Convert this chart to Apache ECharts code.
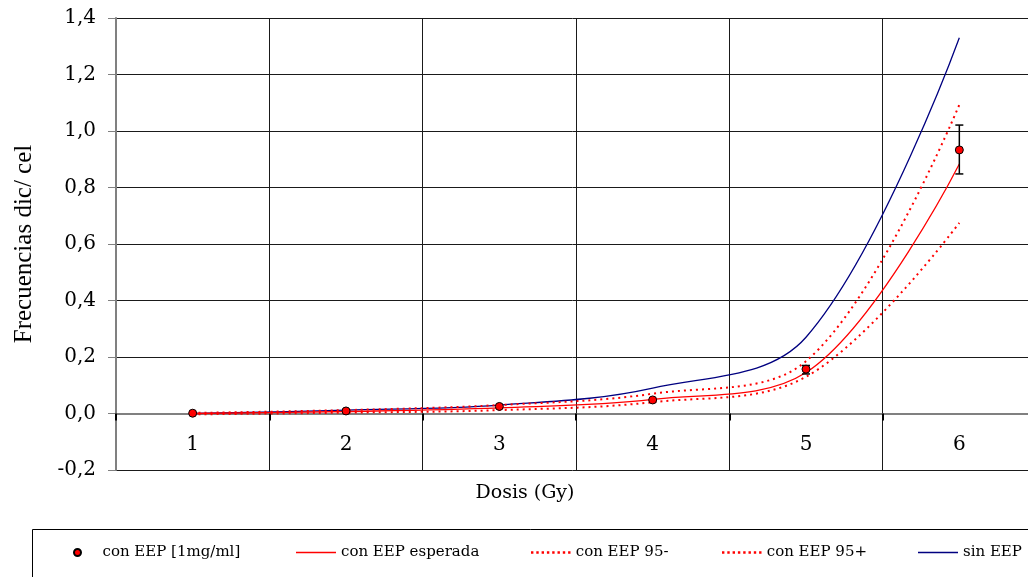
<!DOCTYPE html>
<html>
<head>
<meta charset="utf-8">
<script src="https://cdn.jsdelivr.net/npm/echarts@6/dist/echarts.min.js"></script>
<style>html,body{margin:0;padding:0;background:#fff}#c{width:1028px;height:577px}</style>
</head>
<body>
<div id="c"></div>
<script>
const doses = ['1', '2', '3', '4', '5', '6'];
const observed = [0.001, 0.009, 0.025, 0.048, 0.157, 0.933];
const errPlus = [0, 0, 0, 0, 0.013, 0.088];
const errMinus = [0, 0, 0, 0, 0.017, 0.085];
const expected = [0.0, 0.007, 0.02, 0.05, 0.145, 0.883];
const lower95 = [-0.003, 0.003, 0.012, 0.04, 0.13, 0.675];
const upper95 = [0.002, 0.012, 0.03, 0.07, 0.185, 1.093];
const sinEEP = [0.0, 0.012, 0.03, 0.09, 0.27, 1.33];
const yTicks = { min: -0.2, max: 1.4, interval: 0.2 };

const names = ['con EEP [1mg/ml]', 'con EEP esperada', 'con EEP 95-', 'con EEP 95+', 'sin EEP'];
const serif = 'DejaVu Serif';
const fmt = v => v.toFixed(1).replace('.', ',');
const SMOOTH = 0.36;

const errData = doses.map((d, i) => [i, observed[i] - errMinus[i], observed[i] + errPlus[i]]);

// legend icon shapes
const solidIcon = 'path://M0,0H40V1.4H0Z';
let dots = '';
for (let k = 0; k < 8; k++) { const x0 = k * 5.3; dots += 'M' + x0 + ',0h2.4v2.4h-' + 2.4 + 'z'; }
const dottedIcon = 'path://' + dots;

function legendAt(item, left, extra) {
  return Object.assign({
    data: [item], left: left, top: 545, padding: 0, itemWidth: 40, itemHeight: 2,
    selectedMode: false,
    textStyle: { fontFamily: serif, fontSize: 15, color: '#000' }
  }, extra || {});
}

const chart = echarts.init(document.getElementById('c'), null, { renderer: 'canvas' });

chart.setOption({
  animation: false,
  backgroundColor: '#fff',
  grid: { left: 116, top: 18, width: 920, height: 452, containLabel: false, outerBoundsMode: 'none' },
  legend: [
    legendAt({ name: names[0], icon: 'circle' }, 73, { itemWidth: 8, itemHeight: 7, itemGap: 0,
      textStyle: { fontFamily: serif, fontSize: 15, color: '#000', padding: [0, 0, 0, 16] } }),
    legendAt({ name: names[1], icon: solidIcon }, 296, { itemHeight: 1.4 }),
    legendAt({ name: names[2], icon: dottedIcon }, 531, { itemHeight: 2.4 }),
    legendAt({ name: names[3], icon: dottedIcon }, 722, { itemHeight: 2.4 }),
    legendAt({ name: names[4], icon: solidIcon }, 918, { itemHeight: 1.4 })
  ],
  graphic: [{
    type: 'rect', left: 30, top: 527, z: -1,
    shape: { x: 0, y: 0, width: 1020, height: 70 },
    style: { fill: 'none', stroke: '#000', lineWidth: 1 }
  }],
  xAxis: {
    type: 'category', data: doses, boundaryGap: true,
    name: 'Dosis (Gy)', nameLocation: 'middle', nameGap: 14,
    nameTextStyle: { fontFamily: serif, fontSize: 19, color: '#000', padding: [0, 102, 0, 0] },
    axisLine: { onZero: true, lineStyle: { color: '#808080', width: 2 } },
    axisTick: { show: true, length: 7, inside: false, lineStyle: { color: '#000', width: 2 } },
    axisLabel: { fontFamily: serif, fontSize: 20, color: '#000', margin: -35 },
    splitLine: { show: true, lineStyle: { color: '#1a1a1a', width: 1 } }
  },
  yAxis: {
    type: 'value', min: yTicks.min, max: yTicks.max, interval: yTicks.interval,
    name: 'Frecuencias dic/ cel', nameLocation: 'middle', nameGap: 79, nameRotate: 90,
    nameTextStyle: { fontFamily: 'Liberation Serif', fontSize: 25, color: '#000' },
    axisLine: { show: true, lineStyle: { color: '#808080', width: 2 } },
    axisTick: { show: true, length: 8, lineStyle: { color: '#808080', width: 1 } },
    axisLabel: { fontFamily: serif, fontSize: 20, color: '#000', margin: 20, formatter: fmt },
    splitLine: { show: true, lineStyle: { color: '#1a1a1a', width: 1 } }
  },
  series: [
    {
      name: names[4], type: 'line', data: sinEEP, smooth: SMOOTH, symbol: 'none',
      lineStyle: { color: '#000080', width: 1.3 }, itemStyle: { color: '#000080' }, z: 2
    },
    {
      name: names[1], type: 'line', data: expected, smooth: SMOOTH, symbol: 'none',
      lineStyle: { color: '#ff0000', width: 1.3 }, itemStyle: { color: '#ff0000' }, z: 2
    },
    {
      name: names[2], type: 'line', data: lower95, smooth: SMOOTH, symbol: 'none',
      lineStyle: { color: '#ff0000', width: 2, type: [2, 4] }, itemStyle: { color: '#ff0000' }, z: 2
    },
    {
      name: names[3], type: 'line', data: upper95, smooth: SMOOTH, symbol: 'none',
      lineStyle: { color: '#ff0000', width: 2, type: [2, 4] }, itemStyle: { color: '#ff0000' }, z: 2
    },
    {
      name: 'err', type: 'custom', data: errData, z: 3,
      encode: { x: 0, y: [1, 2] },
      renderItem: function (params, api) {
        const x = api.value(0), lo = api.value(1), hi = api.value(2);
        if (hi - lo <= 0) return null;
        const p1 = api.coord([x, hi]);
        const p2 = api.coord([x, lo]);
        const w = 4;
        const st = { stroke: '#000', lineWidth: 1.5, fill: 'none' };
        return {
          type: 'group', children: [
            { type: 'line', shape: { x1: p1[0], y1: p1[1], x2: p2[0], y2: p2[1] }, style: st },
            { type: 'line', shape: { x1: p1[0] - w, y1: p1[1], x2: p1[0] + w, y2: p1[1] }, style: st },
            { type: 'line', shape: { x1: p2[0] - w, y1: p2[1], x2: p2[0] + w, y2: p2[1] }, style: st }
          ]
        };
      }
    },
    {
      name: names[0], type: 'scatter', data: observed, symbol: 'circle', symbolSize: 8,
      itemStyle: { color: '#ff0000', borderColor: '#000', borderWidth: 1, opacity: 1 }, z: 4
    }
  ]
});
</script>
</body>
</html>
